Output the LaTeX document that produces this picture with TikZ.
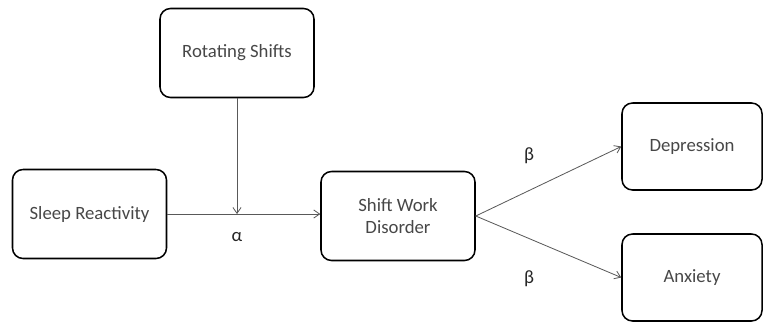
\documentclass[tikz,border=0pt]{standalone}
\usepackage{fontspec}
\setmainfont{Carlito}
\usetikzlibrary{arrows.meta}
\tikzset{
  box/.style={draw=black, line width=1.3pt, rounded corners=9pt, text=black!72,
    minimum width=154*0.03cm, minimum height=89*0.03cm, align=center,
    font=\fontsize{16}{19.5}\selectfont},
  smallbox/.style={box, minimum width=140*0.03cm, minimum height=87*0.03cm},
  link/.style={draw=black!65, line width=.7pt, -{Straight Barb[length=5pt,width=7pt]}},
  coef/.style={text=black!85, font=\fontsize{16}{18}\selectfont}
}
\begin{document}
\begin{tikzpicture}[x=0.03cm, y=-0.03cm, line join=round, line cap=round]
  \useasboundingbox (0,0) rectangle (765,324);
  \node[box] (rs) at (237,53) {Rotating Shifts};
  \node[box] (sr) at (89.5,214) {Sleep Reactivity};
  \node[box] (swd) at (398,216) {Shift Work\\Disorder};
  \node[smallbox] (dep) at (692,146.5) {Depression};
  \node[smallbox] (anx) at (692,277.5) {Anxiety};
  % moderation
  \coordinate (mid) at (rs.south |- sr.east);
  \draw[link] (sr.east) -- (sr.east -| swd.west);
  \draw[link] (rs.south) -- (mid);
  \node[coef] (alpha) at (237,237) {α};
  % outcomes
  \draw[link] (swd.east) -- (dep.west);
  \draw[link] (swd.east) -- (anx.west);
  \node[coef] (b1) at (529,156) {β};
  \node[coef] (b2) at (529,279) {β};
\end{tikzpicture}
\end{document}
